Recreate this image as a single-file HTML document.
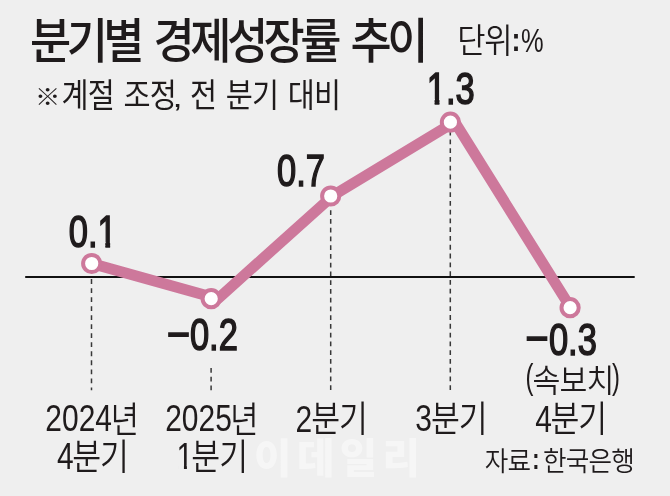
<!DOCTYPE html>
<html lang="ko">
<head>
<meta charset="utf-8">
<title>분기별 경제성장률 추이</title>
<style>
html,body{margin:0;padding:0;background:#efefef;}
body{width:670px;height:496px;overflow:hidden;}
svg{display:block;will-change:transform;}
text{font-family:"Liberation Sans", "Noto Sans CJK KR", sans-serif;white-space:pre;}
.ns{vector-effect:non-scaling-stroke;stroke-linejoin:miter;}
</style>
</head>
<body>
<svg width="670" height="496" viewBox="0 0 670 496">
<rect x="0" y="0" width="670" height="496" fill="#efefef"/>
<text id="wm" transform="translate(254.11 473.11) scale(0.9970 1)" font-size="40.87" font-weight="900" fill="#ffffff" fill-opacity="0.45" letter-spacing="5.31">이데일리</text>
<line x1="91.5" y1="279.1" x2="91.5" y2="390.2" stroke="#383838" stroke-width="1.5" stroke-dasharray="4.8 4.23"/>
<line x1="211.1" y1="368.0" x2="211.1" y2="390.2" stroke="#383838" stroke-width="1.5" stroke-dasharray="4.8 3.90"/>
<line x1="330.7" y1="210.3" x2="330.7" y2="390.2" stroke="#383838" stroke-width="1.5" stroke-dasharray="4.8 3.95"/>
<line x1="450.3" y1="130.7" x2="450.3" y2="390.2" stroke="#383838" stroke-width="1.5" stroke-dasharray="4.8 3.98"/>
<line x1="25.2" y1="277" x2="634.7" y2="277" stroke="#111" stroke-width="1.9"/>
<polyline points="91.7,263.5 218.0,298.7 332.8,195.7 454.7,121.9 570.6,307.7" fill="none" stroke="#cd789b" stroke-width="10.8" stroke-linejoin="round" stroke-linecap="round"/>
<circle cx="91.7" cy="263.5" r="8.6" fill="#ffffff" stroke="#cd789b" stroke-width="4"/>
<circle cx="211.2" cy="298.7" r="8.6" fill="#ffffff" stroke="#cd789b" stroke-width="4"/>
<circle cx="330.7" cy="196.0" r="8.6" fill="#ffffff" stroke="#cd789b" stroke-width="4"/>
<circle cx="450.4" cy="122.2" r="8.6" fill="#ffffff" stroke="#cd789b" stroke-width="4"/>
<circle cx="570.1" cy="307.7" r="8.6" fill="#ffffff" stroke="#cd789b" stroke-width="4"/>
<text id="title" transform="translate(29.91 58.48) scale(0.9273 1)" font-size="48.31" font-weight="500" fill="#1f1b1c" letter-spacing="-4.83" word-spacing="5.80">분기별 경제성장률 추이</text>
<g class="unit">
<text id="unitk" transform="translate(457.25 52.51) scale(0.9074 1)" font-size="33.91" font-weight="350" fill="#1f1b1c" letter-spacing="-1.36">단위</text>
<text id="unitc" transform="translate(511.41 50.92) scale(0.8066 1)" font-size="33.55" font-weight="700" fill="#1f1b1c">:</text>
<text id="unitp" transform="translate(521.12 51.95) scale(0.7772 1)" font-size="32.76" font-weight="400" fill="#1f1b1c">%</text>
</g>
<g class="subtitle">
<text id="subs" transform="translate(34.92 104.95) scale(1.1054 1)" font-size="22.92" font-weight="400" fill="#1f1b1c">※</text>
<text id="subk1" transform="translate(61.56 107.32) scale(0.8985 1)" font-size="32.72" font-weight="400" fill="#1f1b1c" letter-spacing="-0.98" word-spacing="2.62">계절 조정</text>
<text id="subc" transform="translate(172.55 107.06) scale(1.3475 1)" font-size="27.12" font-weight="400" fill="#1f1b1c">,</text>
<text id="subk2" transform="translate(190.02 107.32) scale(0.8985 1)" font-size="32.72" font-weight="400" fill="#1f1b1c" letter-spacing="-0.98" word-spacing="2.62">전 분기 대비</text>
</g>
<g class="val1">
<clipPath id="c-v1"><rect x="-50.00" y="-89.04" width="495.18" height="84.01"/><rect x="-50.00" y="-89.04" width="88.58" height="133.55"/><rect x="61.65" y="-89.04" width="383.53" height="133.55"/><rect x="47.23" y="-6.03" width="6.13" height="50.54"/></clipPath>
<text id="v1" transform="translate(68.74 246.98) scale(0.7754 1)" font-size="44.52" font-weight="400" fill="#1f1b1c" class="ns" stroke="#1f1b1c" stroke-width="1.40" clip-path="url(#c-v1)" style="font-kerning:none">0.1</text>
</g>
<g class="val2">
<text id="v2m" transform="translate(166.90 349.50) scale(0.8734 1)" font-size="45.66" font-weight="400" fill="#1f1b1c" class="ns" stroke="#1f1b1c" stroke-width="1.40">−</text>
<text id="v2" transform="translate(189.90 350.38) scale(0.7754 1)" font-size="44.52" font-weight="400" fill="#1f1b1c" class="ns" stroke="#1f1b1c" stroke-width="1.40">0.2</text>
</g>
<g class="val3">
<text id="v3" transform="translate(277.02 186.11) scale(0.7754 1)" font-size="44.52" font-weight="400" fill="#1f1b1c" class="ns" stroke="#1f1b1c" stroke-width="1.40">0.7</text>
</g>
<g class="val4">
<clipPath id="c-v4"><rect x="-50.00" y="-89.04" width="495.18" height="84.01"/><rect x="-50.00" y="-89.04" width="51.46" height="133.55"/><rect x="24.52" y="-89.04" width="420.66" height="133.55"/><rect x="10.10" y="-6.03" width="6.13" height="50.54"/></clipPath>
<text id="v4" transform="translate(426.81 104.10) scale(0.7754 1)" font-size="44.52" font-weight="400" fill="#1f1b1c" class="ns" stroke="#1f1b1c" stroke-width="1.40" clip-path="url(#c-v4)" style="font-kerning:none">1.3</text>
</g>
<g class="val5">
<text id="v5m" transform="translate(525.54 353.82) scale(0.8734 1)" font-size="45.66" font-weight="400" fill="#1f1b1c" class="ns" stroke="#1f1b1c" stroke-width="1.40">−</text>
<text id="v5" transform="translate(548.92 354.92) scale(0.7754 1)" font-size="44.52" font-weight="400" fill="#1f1b1c" class="ns" stroke="#1f1b1c" stroke-width="1.40">0.3</text>
<text id="pl" transform="translate(525.42 389.47) scale(0.6891 1)" font-size="34.52" font-weight="400" fill="#1f1b1c">(</text>
<text id="prelim" transform="translate(532.58 391.53) scale(0.9342 1)" font-size="32.37" font-weight="350" fill="#1f1b1c" letter-spacing="-0.97">속보치</text>
<text id="pr" transform="translate(611.88 389.47) scale(0.6891 1)" font-size="34.52" font-weight="400" fill="#1f1b1c">)</text>
</g>
<g class="x1">
<text id="x1d" transform="translate(45.31 431.08) scale(0.8066 1)" font-size="37.15" font-weight="400" fill="#1f1b1c">2024</text>
<text id="x1k" transform="translate(110.72 432.62) scale(0.8477 1)" font-size="36.19" font-weight="350" fill="#1f1b1c">년</text>
<text id="x1bd" transform="translate(56.95 469.14) scale(0.8066 1)" font-size="37.15" font-weight="400" fill="#1f1b1c">4</text>
<text id="x1bk" transform="translate(72.16 470.06) scale(0.8710 1)" font-size="36.06" font-weight="350" fill="#1f1b1c" letter-spacing="-1.08">분기</text>
</g>
<g class="x2">
<text id="x2d" transform="translate(165.16 431.08) scale(0.8066 1)" font-size="37.15" font-weight="400" fill="#1f1b1c">2025</text>
<text id="x2k" transform="translate(230.24 432.62) scale(0.8477 1)" font-size="36.19" font-weight="350" fill="#1f1b1c">년</text>
<clipPath id="c-x2bd"><rect x="-50.00" y="-74.30" width="421.51" height="70.53"/><rect x="-50.00" y="-74.30" width="51.84" height="111.45"/><rect x="19.84" y="-74.30" width="351.67" height="111.45"/><rect x="9.16" y="-4.78" width="3.66" height="41.93"/></clipPath>
<text id="x2bd" transform="translate(176.56 468.77) scale(0.8066 1)" font-size="37.15" font-weight="400" fill="#1f1b1c" clip-path="url(#c-x2bd)" style="font-kerning:none">1</text>
<text id="x2bk" transform="translate(191.26 470.06) scale(0.8710 1)" font-size="36.06" font-weight="350" fill="#1f1b1c" letter-spacing="-1.08">분기</text>
</g>
<g class="x3">
<text id="x3d" transform="translate(295.59 431.60) scale(0.8066 1)" font-size="37.15" font-weight="400" fill="#1f1b1c">2</text>
<text id="x3k" transform="translate(311.15 432.35) scale(0.8710 1)" font-size="36.06" font-weight="350" fill="#1f1b1c" letter-spacing="-1.08">분기</text>
</g>
<g class="x4">
<text id="x4d" transform="translate(415.23 431.49) scale(0.8066 1)" font-size="37.15" font-weight="400" fill="#1f1b1c">3</text>
<text id="x4k" transform="translate(430.91 432.35) scale(0.8710 1)" font-size="36.06" font-weight="350" fill="#1f1b1c" letter-spacing="-1.08">분기</text>
</g>
<g class="x5">
<text id="x5d" transform="translate(535.22 431.67) scale(0.8066 1)" font-size="37.15" font-weight="400" fill="#1f1b1c">4</text>
<text id="x5k" transform="translate(550.41 432.35) scale(0.8710 1)" font-size="36.06" font-weight="350" fill="#1f1b1c" letter-spacing="-1.08">분기</text>
</g>
<g class="source">
<text id="src1" transform="translate(484.72 471.05) scale(0.9449 1)" font-size="27.10" font-weight="350" fill="#1f1b1c" letter-spacing="-0.81">자료</text>
<text id="srcc" transform="translate(532.15 469.41) scale(0.7360 1)" font-size="29.48" font-weight="700" fill="#1f1b1c">:</text>
<text id="src2" transform="translate(542.95 471.04) scale(0.9449 1)" font-size="27.10" font-weight="350" fill="#1f1b1c" letter-spacing="-0.81">한국은행</text>
</g>
</svg>
</body>
</html>
